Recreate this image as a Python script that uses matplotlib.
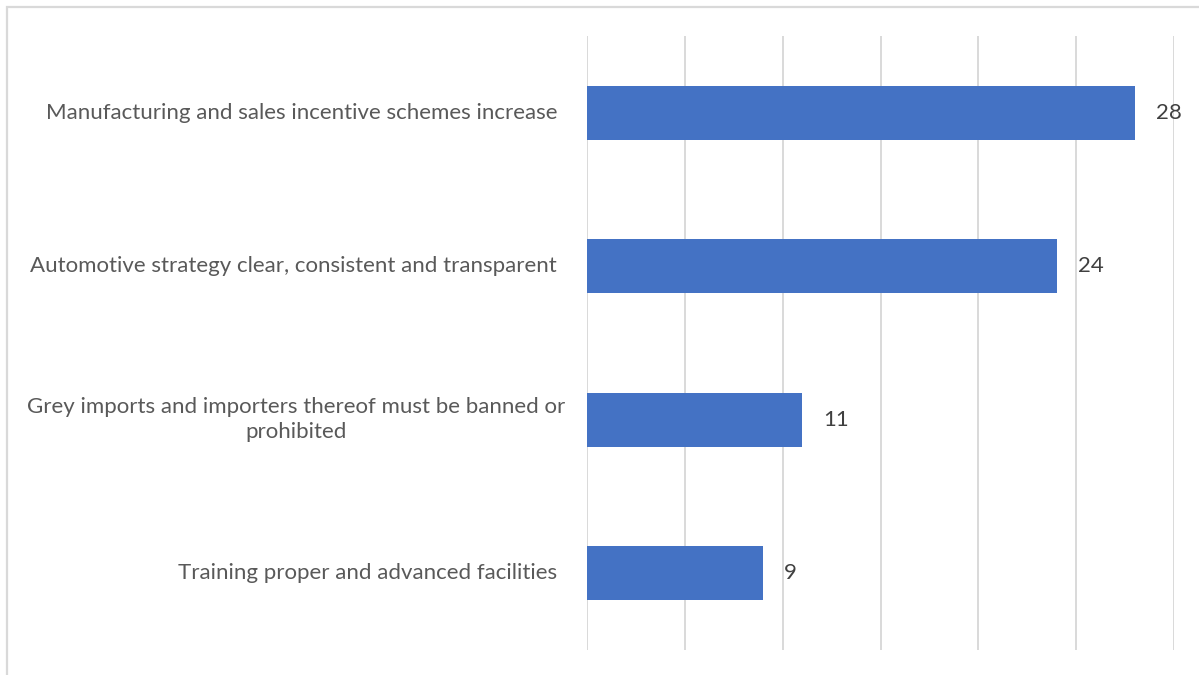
import matplotlib
matplotlib.use('Agg')
import matplotlib.pyplot as plt
from matplotlib.patches import Rectangle
from matplotlib.transforms import offset_copy

plt.rcParams['font.family'] = ['Lato', 'DejaVu Sans']

# 数据
categories = [
    'Manufacturing and sales incentive schemes increase',
    'Automotive strategy clear, consistent and transparent',
    'Grey imports and importers thereof must be banned or\nprohibited',
    'Training proper and advanced facilities',
]
values = [28, 24, 11, 9]
x_ticks = [0, 5, 10, 15, 20, 25, 30]

W, H, dpi = 1199, 675, 100
fig = plt.figure(figsize=(W / dpi, H / dpi), dpi=dpi, facecolor='white')

# 图表外框（只露出上边和左边）
frame = Rectangle((7 / W, -0.05), 1.1, 1 + 0.05 - 7 / H,
                  transform=fig.transFigure, fill=False,
                  edgecolor='#d9d9d9', linewidth=1.6, zorder=0)
fig.add_artist(frame)

ax = fig.add_axes([587 / W, 25 / H, (1174 - 587) / W, (650 - 36) / H])
y = list(range(len(categories)))
ax.barh(y, values, height=0.355, color='#4472C4', zorder=3)

ax.set_xlim(0, 30)
ax.set_ylim(len(categories) - 0.5, -0.5)
ax.set_xticks(x_ticks)
ax.set_xticklabels([])
ax.set_yticks([])
ax.tick_params(length=0)
ax.grid(axis='x', color='#d9d9d9', linewidth=1.4, zorder=0)
for s in ax.spines.values():
    s.set_visible(False)

# 分类标签
for i, cat in enumerate(categories):
    shift = -30 if '\n' not in cat else -22
    tr = offset_copy(ax.get_yaxis_transform(), fig=fig, x=shift, y=0, units='dots')
    ax.text(0, i, cat, transform=tr, ha='right', va='center',
            multialignment='center', linespacing=1.3,
            fontsize=16, color='#595959')

# 数值标签
for i, v in enumerate(values):
    tr = offset_copy(ax.transData, fig=fig, x=21, y=0, units='dots')
    ax.text(v, i, str(v), transform=tr, ha='left', va='center',
            fontsize=16, color='#404040')

fig.savefig('out.png', dpi=dpi, facecolor='white')
